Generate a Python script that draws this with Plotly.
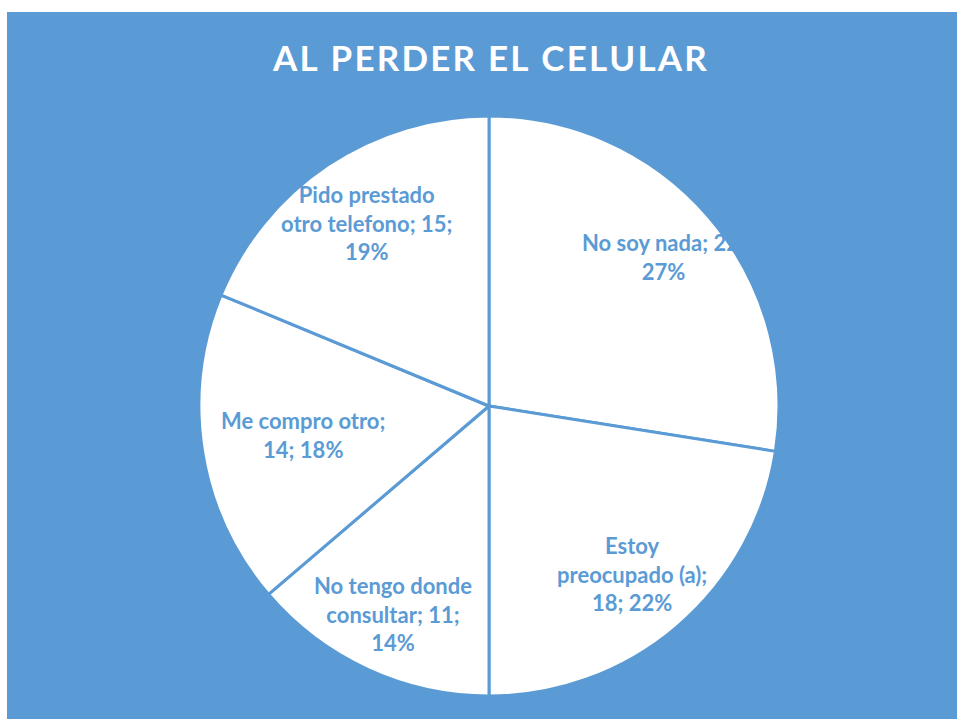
import math
import plotly.graph_objects as go

labels = ["No soy nada", "Estoy preocupado (a)", "No tengo donde consultar",
          "Me compro otro", "Pido prestado otro telefono"]
values = [22, 18, 11, 14, 15]
pcts = [27, 22, 14, 18, 19]
label_texts = [
    "No soy nada; 22;<br>27%",
    "Estoy<br>preocupado (a);<br>18; 22%",
    "No tengo donde<br>consultar; 11;<br>14%",
    "Me compro otro;<br>14; 18%",
    "Pido prestado<br>otro telefono; 15;<br>19%",
]
label_radius = [0.79, 0.76, 0.79, 0.65, 0.76]
title_text = "AL PERDER EL CELULAR"

BLUE = "#5B9BD5"
W, H = 957, 719
cx_px, cy_px, rad = 489, 406, 290

fig = go.Figure(go.Pie(
    labels=labels,
    values=values,
    sort=False,
    direction="clockwise",
    rotation=0,
    textinfo="none",
    hoverinfo="label+value+percent",
    marker=dict(colors=["white"] * len(values), line=dict(color=BLUE, width=3)),
    domain=dict(x=[(cx_px - rad) / W, (cx_px + rad) / W],
                y=[(H - cy_px - rad) / H, (H - cy_px + rad) / H]),
    showlegend=False,
))

# data labels placed at the mid-angle of each slice
total = sum(values)
cum = 0
for v, txt, f in zip(values, label_texts, label_radius):
    mid = (cum + v / 2) / total * 2 * math.pi
    cum += v
    fig.add_annotation(
        x=cx_px / W + rad * f * math.sin(mid) / W,
        y=(H - cy_px) / H + rad * f * math.cos(mid) / H,
        xref="paper", yref="paper", text="<b>" + txt + "</b>", showarrow=False,
        xanchor="center", yanchor="middle", align="center",
        font=dict(family="Lato", size=22, color=BLUE),
    )

spaced_title = "\u200a".join(title_text)
fig.add_annotation(
    x=cx_px / W, y=1 - 57 / H, xref="paper", yref="paper",
    text="<b>" + spaced_title + "</b>", showarrow=False,
    xanchor="center", yanchor="middle",
    font=dict(family="Lato", size=35, color="white"),
)

fig.update_layout(
    width=W, height=H,
    margin=dict(l=0, r=0, t=0, b=0),
    paper_bgcolor=BLUE,
    shapes=[
        dict(type="rect", xref="paper", yref="paper", x0=0, x1=1, y0=1 - 12 / H, y1=1,
             fillcolor="white", line_width=0),
        dict(type="rect", xref="paper", yref="paper", x0=0, x1=7 / W, y0=0, y1=1,
             fillcolor="white", line_width=0),
    ],
)

fig.write_html("out.html", config={"displayModeBar": False},
               post_script="document.body.style.margin='0';document.body.style.overflow='hidden';")
